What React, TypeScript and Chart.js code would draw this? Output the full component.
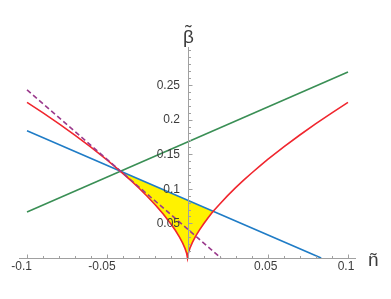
import React, { useEffect, useRef } from 'react';
import { Chart, registerables } from 'chart.js';

Chart.register(...registerables);

// ---- data ----
const greenX = [-0.1, 0.1];
const greenY = [0.0665, 0.269];

const blueX = [-0.1, 0.0833];
const blueY = [0.184, 0];

const dashedX = [-0.1, 0.0208];
const dashedY = [0.243, 0];

const redX = [
  -0.1, -0.09, -0.08, -0.07, -0.06, -0.05, -0.0423, -0.035, -0.03, -0.025, -0.02, -0.015,
  -0.01, -0.0075, -0.005, -0.003, -0.0015, -0.0005, 0,
  0.0005, 0.0015, 0.003, 0.005, 0.0075, 0.01, 0.0125, 0.0156, 0.02, 0.025, 0.03, 0.035,
  0.04, 0.045, 0.05, 0.06, 0.07, 0.08, 0.09, 0.1,
];
const redY = [
  0.225, 0.2097, 0.1938, 0.1772, 0.1598, 0.1414, 0.1264, 0.1114, 0.1004, 0.0889, 0.0765, 0.0631,
  0.0481, 0.0397, 0.0302, 0.0215, 0.0135, 0.0065, 0,
  0.0068, 0.0141, 0.0222, 0.0312, 0.0407, 0.0492, 0.057, 0.0665, 0.0778, 0.0901, 0.1017, 0.1125,
  0.1229, 0.1328, 0.1424, 0.1606, 0.1778, 0.1942, 0.2099, 0.225,
];

// yellow region: between the blue line (top) and the red curve (bottom)
const yellowTopX = [-0.0423, 0.0156];
const yellowTopY = [0.1259, 0.068];
const yellowFromX = -0.0423;
const yellowToX = 0.0156;

const xTickValues = [
  -0.1, -0.09, -0.08, -0.07, -0.06, -0.05, -0.04, -0.03, -0.02, -0.01,
  0.01, 0.02, 0.03, 0.04, 0.05, 0.06, 0.07, 0.08, 0.09, 0.1,
];
const xTickLabels: Record<string, string> = { '-0.1': '-0.1  ', '-0.05': '-0.05  ', '0.05': '0.05', '0.1': '0.1' };
const yTickValues = [
  0.01, 0.02, 0.03, 0.04, 0.05, 0.06, 0.07, 0.08, 0.09, 0.1, 0.11, 0.12, 0.13, 0.14, 0.15,
  0.16, 0.17, 0.18, 0.19, 0.2, 0.21, 0.22, 0.23, 0.24, 0.25, 0.26, 0.27, 0.28, 0.29, 0.3,
];
const yTickLabels: Record<string, string> = { '0.05': '0.05', '0.1': '0.1', '0.15': '0.15', '0.2': '0.2', '0.25': '0.25' };

const xTitle = 'ñ';
const yTitle = 'β';
const yTitleAccent = '˜';

const zip = (xs: number[], ys: number[]) => xs.map((x, i) => ({ x, y: ys[i] }));

const AXIS_COLOR = '#a0a0a0';
const TEXT_COLOR = '#3c3c3c';
const FONT = '"Liberation Sans", Arial, sans-serif';

const axisDecor = {
  id: 'axisDecor',
  afterDraw(chart: any) {
    const { ctx, scales, chartArea } = chart;
    const xs = scales.x;
    const ys = scales.y;
    const x0 = Math.round(xs.getPixelForValue(0)) + 0.5;
    const y0 = Math.round(ys.getPixelForValue(0)) + 0.5;
    ctx.save();
    ctx.strokeStyle = AXIS_COLOR;
    ctx.lineWidth = 1;
    ctx.beginPath();
    ctx.moveTo(chartArea.left, y0);
    ctx.lineTo(chartArea.right, y0);
    ctx.moveTo(x0, y0);
    ctx.lineTo(x0, chartArea.top);
    ctx.stroke();
    ctx.beginPath();
    for (const v of xTickValues) {
      const px = Math.round(xs.getPixelForValue(v)) + 0.5;
      const len = xTickLabels[String(v)] ? 4 : 2.5;
      ctx.moveTo(px, y0);
      ctx.lineTo(px, y0 - len);
    }
    for (const v of yTickValues) {
      const py = Math.round(ys.getPixelForValue(v)) + 0.5;
      const len = yTickLabels[String(v)] ? 4 : 2.5;
      ctx.moveTo(x0, py);
      ctx.lineTo(x0 + len, py);
    }
    ctx.stroke();

    // y tick labels, left of the y axis
    ctx.fillStyle = TEXT_COLOR;
    ctx.font = '12px ' + FONT;
    ctx.textAlign = 'right';
    ctx.textBaseline = 'middle';
    for (const v of yTickValues) {
      const lab = yTickLabels[String(v)];
      if (lab) ctx.fillText(lab, x0 - 8.5, ys.getPixelForValue(v) + 0.5);
    }

    ctx.font = '19px ' + FONT;
    ctx.textAlign = 'left';
    ctx.textBaseline = 'alphabetic';
    ctx.fillText(xTitle, chartArea.right + 12, y0 + 7);
    ctx.textAlign = 'center';
    ctx.fillText(yTitle, x0, chartArea.top - 4);
    ctx.fillText(yTitleAccent, x0, chartArea.top - 9);
    ctx.restore();
  },
};

export default function App() {
  const ref = useRef<HTMLCanvasElement | null>(null);
  useEffect(() => {
    if (!ref.current) return;
    const lineBase = { pointRadius: 0, borderWidth: 1.6, fill: false, clip: false as any };
    const yellowLow = zip(redX, redY).filter((p) => p.x >= yellowFromX && p.x <= yellowToX);
    const chart = new Chart(ref.current, {
      type: 'scatter',
      data: {
        datasets: [
          { ...lineBase, label: 'dashed', data: zip(dashedX, dashedY), showLine: true, borderColor: '#9b3a8c', borderDash: [5, 3] },
          { ...lineBase, label: 'red', data: zip(redX, redY), showLine: true, borderColor: '#f0262e' },
          { ...lineBase, label: 'blue', data: zip(blueX, blueY), showLine: true, borderColor: '#1f7cc6' },
          { ...lineBase, label: 'green', data: zip(greenX, greenY), showLine: true, borderColor: '#3a8f55' },
          { label: 'yellowLow', data: yellowLow, showLine: true, pointRadius: 0, borderWidth: 0, borderColor: 'rgba(0,0,0,0)', fill: false },
          { label: 'yellowTop', data: zip(yellowTopX, yellowTopY), showLine: true, pointRadius: 0, borderWidth: 0, borderColor: 'rgba(0,0,0,0)', backgroundColor: '#fff200', fill: '-1' },
        ],
      },
      options: {
        animation: false,
        responsive: false,
        maintainAspectRatio: false,
        layout: { padding: { left: 19, right: 35, top: 47, bottom: 41 } },
        plugins: { legend: { display: false }, tooltip: { enabled: false } },
        scales: {
          x: {
            type: 'linear',
            min: -0.105,
            max: 0.105,
            position: { y: 0 } as any,
            z: 1,
            grid: { display: false, drawTicks: false },
            border: { display: false },
            afterBuildTicks: (s: any) => { s.ticks = xTickValues.map((v) => ({ value: v })); },
            ticks: {
              autoSkip: false,
              maxRotation: 0,
              padding: 1,
              labelOffset: -2,
              color: TEXT_COLOR,
              font: { family: FONT, size: 12 },
              callback: (v: any) => xTickLabels[String(v)] ?? '',
            },
          },
          y: {
            type: 'linear',
            min: 0,
            max: 0.305,
            position: { x: 0 } as any,
            grid: { display: false, drawTicks: false },
            border: { display: false },
            afterBuildTicks: (s: any) => { s.ticks = yTickValues.map((v) => ({ value: v })); },
            ticks: { display: false },
          },
        },
      },
      plugins: [axisDecor],
    });
    return () => chart.destroy();
  }, []);
  return (
    <div style={{ position: 'absolute', left: 0, top: 0, width: 391, height: 299, background: '#fff' }}>
      <canvas ref={ref} width={391} height={299} style={{ display: 'block' }} />
    </div>
  );
}
